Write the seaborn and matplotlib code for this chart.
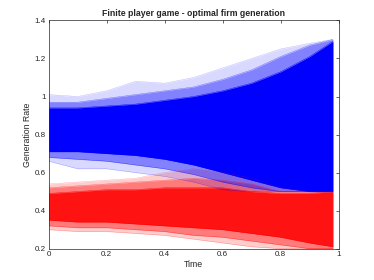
import numpy as np
import pandas as pd
import matplotlib
matplotlib.use("Agg")
import matplotlib.pyplot as plt
import seaborn as sns

# time grid and band edges
t = [0, 0.1, 0.2, 0.3, 0.4, 0.5, 0.6, 0.7, 0.8, 0.9, 0.98]

blue_top_out = [1.01, 1.00, 1.03, 1.08, 1.07, 1.10, 1.15, 1.20, 1.25, 1.28, 1.30]
blue_top_mid = [0.97, 0.97, 0.99, 1.01, 1.03, 1.05, 1.09, 1.14, 1.21, 1.27, 1.30]
blue_top_core = [0.94, 0.94, 0.95, 0.96, 0.98, 1.00, 1.03, 1.07, 1.13, 1.21, 1.29]
blue_bot_core = [0.71, 0.71, 0.70, 0.69, 0.67, 0.64, 0.60, 0.56, 0.52, 0.50, 0.50]
blue_bot_mid = [0.68, 0.67, 0.66, 0.64, 0.62, 0.59, 0.55, 0.52, 0.50, 0.50, 0.50]
blue_bot_out = [0.66, 0.62, 0.62, 0.60, 0.58, 0.55, 0.51, 0.50, 0.50, 0.50, 0.50]

red_top_out = [0.54, 0.55, 0.56, 0.57, 0.60, 0.62, 0.60, 0.57, 0.52, 0.50, 0.50]
red_top_mid = [0.52, 0.53, 0.54, 0.55, 0.56, 0.57, 0.56, 0.54, 0.50, 0.50, 0.50]
red_top_core = [0.49, 0.50, 0.51, 0.51, 0.52, 0.52, 0.52, 0.50, 0.49, 0.49, 0.50]
red_bot_core = [0.35, 0.34, 0.34, 0.33, 0.32, 0.31, 0.30, 0.28, 0.26, 0.23, 0.21]
red_bot_mid = [0.32, 0.31, 0.31, 0.30, 0.29, 0.27, 0.26, 0.24, 0.22, 0.20, 0.20]
red_bot_out = [0.30, 0.29, 0.29, 0.28, 0.27, 0.25, 0.23, 0.21, 0.20, 0.20, 0.20]

xticks = [0, 0.2, 0.4, 0.6, 0.8, 1]
yticks = [0.2, 0.4, 0.6, 0.8, 1, 1.2, 1.4]

sns.set_style("white")
plt.rcParams['font.family'] = ['Liberation Sans', 'DejaVu Sans']

fig = plt.figure(figsize=(3.74, 2.8), dpi=100)
ax = fig.add_axes([0.130, 0.112, 0.7756, 0.815])

bands = {
    'red': [(red_bot_out, red_top_out, 0.2), (red_bot_mid, red_top_mid, 0.4),
            (red_bot_core, red_top_core, 0.85)],
    'blue': [(blue_bot_out, blue_top_out, 0.15), (blue_bot_mid, blue_top_mid, 0.4),
             (blue_bot_core, blue_top_core, 1.0)],
}
colors = {'red': '#ff0000', 'blue': '#0000ff'}

for grp in ['red', 'blue']:
    for lo, hi, a in bands[grp]:
        ax.fill_between(t, lo, hi, color=colors[grp], alpha=a, linewidth=0)
        edges = pd.DataFrame({'t': t + t, 'v': lo + hi,
                              'edge': ['lo'] * len(t) + ['hi'] * len(t)})
        sns.lineplot(data=edges, x='t', y='v', units='edge', estimator=None,
                     color=colors[grp], alpha=min(1, a + 0.15), linewidth=0.3, ax=ax)

ax.set_xlim(0, 1)
ax.set_ylim(0.2, 1.4)
ax.set_xticks(xticks)
ax.set_xticklabels(['0', '0.2', '0.4', '0.6', '0.8', '1'])
ax.set_yticks(yticks)
ax.set_yticklabels(['0.2', '0.4', '0.6', '0.8', '1', '1.2', '1.4'])
ax.tick_params(direction='in', length=2.5, width=0.5, labelsize=5.8,
               colors='#262626', top=True, right=True, pad=2)
for s in ax.spines.values():
    s.set_color('#262626')
    s.set_linewidth(0.5)
ax.set_xlabel('Time', fontsize=6.3, labelpad=1)
ax.set_ylabel('Generation Rate', fontsize=6.3, labelpad=2)
ax.set_title('Finite player game - optimal firm generation', fontsize=6.3,
             fontweight='bold', pad=3)

fig.savefig('out.png', dpi=100)
